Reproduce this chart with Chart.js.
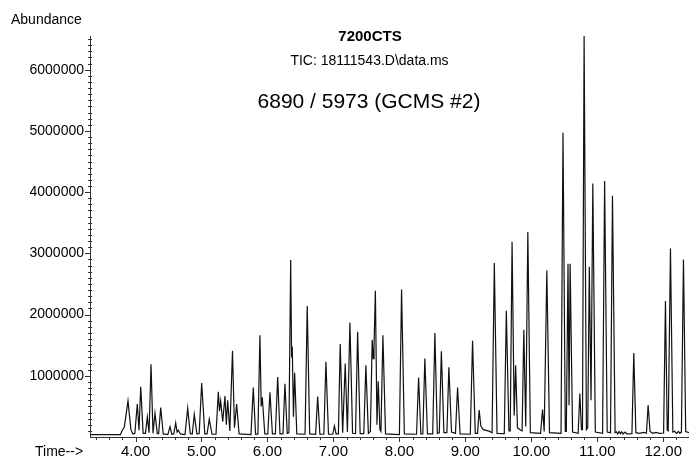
<!DOCTYPE html>
<html>
<head>
<meta charset="utf-8">
<script src="https://cdn.jsdelivr.net/npm/chart.js@4.4.1/dist/chart.umd.min.js"></script>
<style>
  html, body { margin: 0; padding: 0; background: #fff; }
  #wrap { width: 689px; height: 459px; }
</style>
</head>
<body>
<div id="wrap"><canvas id="tic" width="689" height="459"></canvas></div>
<script>
// Header texts
const titleSample = '7200CTS';
const titleSignal = 'TIC: 18111543.D\\data.ms';
const titleInstrument = '6890 / 5973 (GCMS #2)';
const yAxisTitle = 'Abundance';
const xAxisTitle = 'Time-->';

// Axis ranges and labelled ticks
const timeMin = 3.31;
const timeMax = 12.39;
const abundanceMax = 6550000;
const timeTicks = [4, 5, 6, 7, 8, 9, 10, 11, 12];
const abundanceTicks = [1000000, 2000000, 3000000, 4000000, 5000000, 6000000];

// Total ion chromatogram trace, [retention time (min), abundance]
const trace1 = [
  [3.31, 40000], [3.77, 38000], [3.80, 110000], [3.83, 160000], [3.886, 590000],
  [3.93, 120000], [3.96, 50000], [3.99, 60000], [4.027, 540000], [4.053, 110000],
  [4.079, 820000], [4.115, 60000], [4.15, 60000], [4.179, 330000], [4.205, 70000],
  [4.235, 1190000], [4.265, 60000], [4.295, 390000], [4.33, 55000], [4.35, 55000],
  [4.382, 480000], [4.42, 50000], [4.49, 40000], [4.523, 170000], [4.55, 45000],
  [4.58, 50000], [4.609, 230000], [4.63, 80000], [4.648, 110000], [4.68, 50000],
  [4.75, 40000], [4.791, 470000], [4.83, 55000], [4.86, 50000], [4.891, 370000],
  [4.93, 50000], [4.965, 55000], [5.003, 880000], [5.05, 50000], [5.085, 50000],
  [5.118, 290000], [5.16, 45000], [5.22, 45000], [5.255, 740000], [5.273, 420000],
  [5.291, 590000], [5.322, 250000], [5.356, 670000], [5.377, 200000], [5.397, 600000],
  [5.43, 100000], [5.47, 1410000], [5.50, 150000], [5.533, 540000], [5.57, 50000]
];
const trace2 = [
  [5.75, 40000], [5.785, 810000], [5.82, 45000], [5.855, 50000], [5.886, 1660000],
  [5.905, 500000], [5.921, 650000], [5.96, 50000], [6.005, 50000], [6.038, 730000],
  [6.075, 50000], [6.12, 50000], [6.155, 980000], [6.19, 50000], [6.235, 50000],
  [6.265, 870000], [6.30, 60000], [6.325, 70000], [6.352, 2890000], [6.366, 1300000],
  [6.376, 1480000], [6.394, 330000], [6.412, 1050000], [6.445, 50000], [6.57, 45000],
  [6.603, 2140000], [6.64, 50000], [6.73, 45000], [6.761, 660000], [6.795, 45000],
  [6.855, 45000], [6.886, 1230000], [6.925, 45000], [6.99, 45000], [7.015, 180000],
  [7.04, 50000], [7.075, 50000], [7.103, 1520000], [7.14, 70000], [7.179, 1200000],
  [7.212, 80000], [7.25, 1870000], [7.29, 60000], [7.335, 55000], [7.367, 1720000],
  [7.405, 55000], [7.46, 55000], [7.492, 1170000], [7.53, 60000], [7.56, 90000],
  [7.588, 1590000], [7.603, 1280000], [7.615, 1460000], [7.636, 2390000], [7.66, 200000],
  [7.679, 910000], [7.705, 120000], [7.72, 90000], [7.75, 1660000], [7.79, 50000]
];
const trace3 = [
  [8.00, 40000], [8.033, 2410000], [8.075, 50000], [8.26, 45000], [8.291, 970000],
  [8.325, 50000], [8.355, 50000], [8.386, 1280000], [8.425, 50000], [8.505, 50000],
  [8.538, 1700000], [8.575, 60000], [8.605, 70000], [8.636, 1400000], [8.675, 70000],
  [8.72, 70000], [8.75, 1140000], [8.79, 80000], [8.85, 60000], [8.882, 810000],
  [8.92, 50000], [9.075, 45000], [9.109, 1570000], [9.15, 60000], [9.185, 60000],
  [9.209, 440000], [9.235, 180000], [9.27, 120000], [9.36, 95000], [9.405, 70000],
  [9.439, 2840000], [9.48, 60000], [9.59, 55000], [9.621, 2060000], [9.66, 100000],
  [9.68, 100000], [9.708, 3190000], [9.74, 350000], [9.762, 1170000], [9.79, 150000],
  [9.84, 110000], [9.86, 100000], [9.886, 1750000], [9.915, 170000], [9.947, 3350000],
  [9.985, 70000]
];
const trace4 = [
  [10.14, 60000], [10.17, 450000], [10.195, 90000], [10.235, 2720000], [10.275, 70000],
  [10.45, 60000], [10.48, 4970000], [10.515, 90000], [10.53, 90000], [10.556, 2830000],
  [10.572, 520000], [10.588, 2830000], [10.625, 80000], [10.71, 60000], [10.735, 710000],
  [10.76, 120000], [10.775, 120000], [10.80, 6550000], [10.835, 120000], [10.855, 150000],
  [10.879, 2780000], [10.905, 600000], [10.932, 4140000], [10.97, 80000], [11.08, 60000],
  [11.111, 4180000], [11.15, 80000], [11.20, 70000], [11.23, 3940000], [11.27, 70000],
  [11.29, 85000], [11.31, 50000], [11.33, 90000], [11.35, 55000], [11.37, 85000],
  [11.39, 50000], [11.42, 80000], [11.45, 50000], [11.525, 55000], [11.553, 1370000],
  [11.585, 70000], [11.64, 60000], [11.70, 75000], [11.745, 65000], [11.77, 520000],
  [11.80, 90000], [11.84, 60000], [11.89, 75000], [11.94, 60000], [12.005, 65000],
  [12.033, 2220000], [12.06, 110000], [12.075, 100000], [12.109, 3080000], [12.145, 80000],
  [12.17, 95000], [12.20, 60000], [12.23, 90000], [12.25, 60000], [12.275, 80000],
  [12.306, 2900000], [12.34, 90000], [12.39, 70000]
];

const FONT = "'Liberation Sans', Arial, Helvetica, sans-serif";
Chart.defaults.font.family = FONT;
Chart.defaults.color = '#000';

const tracePoints = [...trace1, ...trace2, ...trace3, ...trace4].map(([t, v]) => ({ x: t, y: v }));

// Tick marks along both axes plus the header texts
const chromDecor = {
  id: 'chromDecor',
  afterDraw(chart) {
    const { ctx, chartArea: a, scales: { x, y } } = chart;
    ctx.save();
    ctx.strokeStyle = '#333';
    ctx.lineWidth = 1;
    ctx.beginPath();
    for (let k = Math.ceil(timeMin * 5); k <= Math.floor(timeMax * 5); k++) {
      const px = Math.round(x.getPixelForValue(k / 5)) + 0.5;
      const len = (k % 5 === 0) ? 5 : 3;
      ctx.moveTo(px, a.bottom);
      ctx.lineTo(px, a.bottom + len);
    }
    for (let k = 1; k * 100000 <= abundanceMax; k++) {
      const py = Math.round(y.getPixelForValue(k * 100000)) + 0.5;
      if (k % 10 === 0) {
        ctx.moveTo(a.left - 5, py);
        ctx.lineTo(a.left, py);
      } else {
        ctx.moveTo(a.left - 2, py);
        ctx.lineTo(a.left + 2, py);
      }
    }
    ctx.stroke();

    ctx.fillStyle = '#000';
    ctx.textBaseline = 'alphabetic';
    ctx.textAlign = 'center';
    ctx.font = 'bold 15px ' + FONT;
    ctx.fillText(titleSample, 370, 41);
    ctx.font = '14px ' + FONT;
    ctx.fillText(titleSignal, 369.5, 65);
    ctx.font = '21px ' + FONT;
    ctx.fillText(titleInstrument, 369, 108);

    ctx.textAlign = 'left';
    ctx.font = '14px ' + FONT;
    ctx.fillText(yAxisTitle, 11, 24);
    ctx.fillText(xAxisTitle, 35, 456);
    ctx.restore();
  }
};

new Chart(document.getElementById('tic'), {
  type: 'line',
  data: {
    datasets: [{
      data: tracePoints,
      borderColor: '#111',
      borderWidth: 1.2,
      pointRadius: 0,
      tension: 0,
      fill: false
    }]
  },
  options: {
    responsive: false,
    animation: false,
    devicePixelRatio: 1,
    layout: { padding: { top: 36, right: 0, bottom: 0, left: 0 } },
    plugins: { legend: { display: false }, tooltip: { enabled: false }, title: { display: false } },
    scales: {
      x: {
        type: 'linear',
        min: timeMin,
        max: timeMax,
        grid: { display: false, drawTicks: false },
        border: { display: true, color: '#333', width: 1 },
        afterBuildTicks: s => { s.ticks = timeTicks.map(v => ({ value: v })); },
        afterFit: s => { s.height = 22; },
        ticks: {
          callback: v => Number(v).toFixed(2),
          font: { size: 15, family: FONT },
          color: '#000',
          padding: 6,
          maxRotation: 0,
          autoSkip: false
        }
      },
      y: {
        type: 'linear',
        min: 0,
        max: abundanceMax,
        grid: { display: false, drawTicks: false },
        border: { display: true, color: '#333', width: 1 },
        afterBuildTicks: s => { s.ticks = abundanceTicks.map(v => ({ value: v })); },
        afterFit: s => { s.width = 90; },
        ticks: {
          callback: v => String(v),
          font: { size: 14, family: FONT },
          color: '#000',
          padding: 6,
          autoSkip: false
        }
      }
    }
  },
  plugins: [chromDecor]
});
</script>
</body>
</html>
